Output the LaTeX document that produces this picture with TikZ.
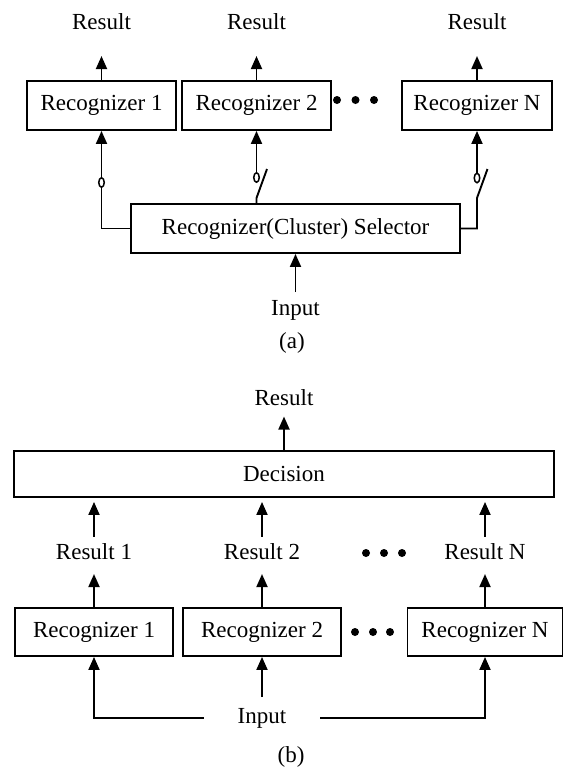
\documentclass[tikz,border=0pt]{standalone}
\usepackage{fontspec}
\setmainfont{Liberation Serif}
\usetikzlibrary{arrows.meta,shapes.geometric,calc}
\begin{document}
\begin{tikzpicture}[x=1pt,y=-1pt,
  font=\fontsize{23}{27}\selectfont,
  line width=1.9pt,
  box/.style={draw, minimum height=49pt, inner sep=0pt},
  lbl/.style={inner sep=0pt},
  arr/.style={-{Triangle[length=13pt,width=11pt]}},
  contact/.style={draw, ellipse, line width=1.5pt, minimum width=5.5pt, minimum height=9.5pt, inner sep=0pt},
  dot/.style={circle, fill, inner sep=0pt, minimum size=8pt}]
\useasboundingbox (0,0) rectangle (563,769);

% ---------- (a) selector-based recognition ----------
\node[box, minimum width=149pt] (r1a) at (101.5,105.5) {Recognizer 1};
\node[box, minimum width=149pt] (r2a) at (256.5,105.5) {Recognizer 2};
\node[box, minimum width=150pt] (rna) at (477,105.5) {Recognizer N};

\node[lbl] (o1a) at (101.5,22) {Result};
\node[lbl] (o2a) at (256.5,22) {Result};
\node[lbl] (ona) at (477,22) {Result};
\draw[arr] (r1a.north) -- ([yshift=-25pt]o1a.south);
\draw[arr] (r2a.north) -- ([yshift=-25pt]o2a.south);
\draw[arr] (rna.north) -- ([yshift=-25pt]ona.south);

\node[dot] (da1) at (337,100) {};
\node[dot] (da2) at (355.5,100) {};
\node[dot] (da3) at (374,100) {};

\node[box, minimum width=329pt] (sel) at (295.5,228.5) {Recognizer(Cluster) Selector};

% closed contact towards recognizer 1
\node[contact] (c1) at (101.5,182.5) {};
\draw (sel.west) -| (c1.south);
\draw[arr] (c1.north) -- (r1a.south);

% open switch towards recognizer 2
\node[contact] (c2) at (256.5,177.5) {};
\coordinate (p2) at (256.5,198);
\draw (sel.north -| p2) -- (p2) -- ++(10.5,-29);
\draw[arr] (c2.north) -- (r2a.south);

% open switch towards recognizer N
\node[contact] (cn) at (477,178) {};
\coordinate (pn) at (477,198);
\draw (sel.east) -| (pn) -- ++(10.5,-29);
\draw[arr] (cn.north) -- (rna.south);

\node[lbl] (ina) at (295.5,310) {Input};
\draw[arr] ([yshift=7pt]ina.north) -- (sel.south);
\node[lbl] (capa) at (292,343) {(a)};

% ---------- (b) parallel recognition with decision ----------
\node[box, minimum width=540pt, minimum height=46pt] (dec) at (284,474) {Decision};
\node[lbl] (outb) at (284,398) {Result};
\draw[arr] (dec.north) -- ([yshift=-9.5pt]outb.south);

\node[lbl] (o1b) at (94,552) {Result 1};
\node[lbl] (o2b) at (262,552) {Result 2};
\node[lbl] (onb) at (485,552) {Result N};
\draw[arr] ([yshift=6pt]o1b.north) -- ($(o1b.north |- dec.south)+(0,4)$);
\draw[arr] ([yshift=6pt]o2b.north) -- ($(o2b.north |- dec.south)+(0,4)$);
\draw[arr] ([yshift=6pt]onb.north) -- ($(onb.north |- dec.south)+(0,4)$);

\node[dot] (db1) at (366,553) {};
\node[dot] (db2) at (384,553) {};
\node[dot] (db3) at (402,553) {};

\node[box, minimum width=158pt, minimum height=48pt] (r1b) at (94,632) {Recognizer 1};
\node[box, minimum width=158pt, minimum height=48pt] (r2b) at (262,632) {Recognizer 2};
\node[box, minimum width=155pt, minimum height=48pt] (rnb) at (485,632) {Recognizer N};
\draw[arr] (r1b.north) -- ([yshift=-13pt]o1b.south);
\draw[arr] (r2b.north) -- ([yshift=-13pt]o2b.south);
\draw[arr] (rnb.north) -- ([yshift=-13pt]onb.south);

\node[dot] (dc1) at (355,632) {};
\node[dot] (dc2) at (373,632) {};
\node[dot] (dc3) at (390,632) {};

\node[lbl, inner xsep=33pt] (inb) at (262,718) {Input};
\draw[arr] (inb.west) -| (r1b.south);
\draw[arr] (inb.east) -| (rnb.south);
\draw[arr] ([yshift=10pt]inb.north) -- (r2b.south);
\node[lbl] (capb) at (291,757) {(b)};
\end{tikzpicture}
\end{document}
